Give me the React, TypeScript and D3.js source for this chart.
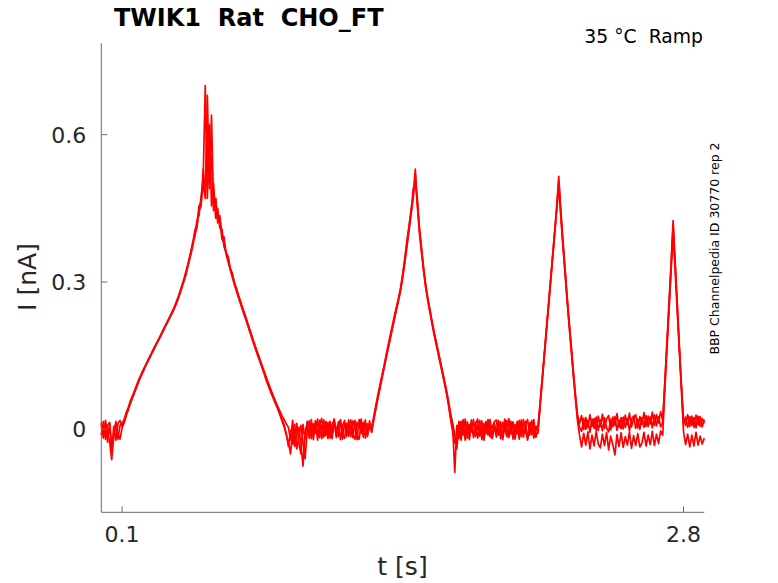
import React, { useMemo } from 'react';
import * as d3 from 'd3';

const WIDTH = 778;
const HEIGHT = 583;
const PLOT = { left: 101.3, right: 704.3, top: 43.3, bottom: 512.3 };
const DT = 0.01; // sample spacing of the traces below, in s

const X_DOMAIN: [number, number] = [0, 2.9];
const Y_DOMAIN: [number, number] = [-0.169, 0.786];
const X_TICKS = [0.1, 2.8];
const Y_TICKS = [0, 0.3, 0.6];

const TITLE = 'TWIK1\u00a0\u00a0Rat\u00a0\u00a0CHO_FT';
const CONDITION = '35 \u00b0C\u00a0\u00a0Ramp';
const SOURCE = 'BBP Channelpedia ID 30770 rep 2';

// current in nA, one value per 10 ms
const sweepA = [
  0.010, -0.015, 0.018, -0.008, -0.025, -0.062, -0.015, 0.012, -0.020, 0.008,
  0.012, 0.020, 0.034, 0.045, 0.058, 0.068, 0.079, 0.090, 0.101, 0.110,
  0.120, 0.128, 0.137, 0.146, 0.154, 0.163, 0.171, 0.179, 0.187, 0.196,
  0.205, 0.213, 0.222, 0.230, 0.239, 0.248, 0.259, 0.270, 0.283, 0.296,
  0.310, 0.326, 0.343, 0.361, 0.380, 0.405, 0.418, 0.455, 0.462, 0.500,
  0.470, 0.680, 0.500, 0.560, 0.450, 0.470, 0.425, 0.435, 0.395, 0.392,
  0.360, 0.352, 0.328, 0.318, 0.299, 0.287, 0.273, 0.260, 0.247, 0.235,
  0.222, 0.209, 0.196, 0.183, 0.170, 0.158, 0.146, 0.134, 0.122, 0.110,
  0.098, 0.087, 0.076, 0.065, 0.055, 0.045, 0.036, 0.027, 0.019, 0.011,
  0.004, -0.022, 0.018, -0.035, 0.012, -0.028, -0.050, 0.010, -0.020, 0.016,
  -0.014, 0.020, -0.010, 0.017, -0.022, 0.011, 0.022, -0.016, 0.008, -0.019,
  0.016, -0.008, 0.021, -0.017, 0.009, 0.018, -0.020, 0.013, -0.006, 0.019,
  -0.015, 0.017, 0.005, -0.021, 0.020, -0.009, 0.014, -0.018, 0.011, 0.002,
  0.004, 0.025, 0.048, 0.070, 0.090, 0.110, 0.130, 0.152, 0.172, 0.192,
  0.212, 0.232, 0.250, 0.268, 0.290, 0.318, 0.350, 0.385, 0.415, 0.448,
  0.475, 0.530, 0.460, 0.410, 0.370, 0.330, 0.295, 0.268, 0.245, 0.222,
  0.200, 0.180, 0.160, 0.140, 0.120, 0.100, 0.080, 0.058, 0.032, 0.012,
  -0.010, -0.040, 0.016, -0.014, 0.020, -0.022, 0.012, -0.007, 0.019, -0.017,
  0.010, 0.021, -0.014, 0.004, -0.020, 0.016, -0.009, 0.020, -0.018, 0.012,
  -0.005, 0.018, -0.019, 0.014, 0.006, -0.015, 0.022, -0.010, 0.015, -0.020,
  0.016, -0.006, 0.019, -0.016, 0.008, 0.020, -0.012, 0.015, -0.018, 0.006,
  0.006, 0.052, 0.102, 0.152, 0.202, 0.252, 0.302, 0.352, 0.402, 0.452,
  0.515, 0.445, 0.385, 0.330, 0.272, 0.220, 0.170, 0.120, 0.072, 0.030,
  0.012, 0.028, 0.000, 0.024, 0.004, 0.030, 0.006, 0.022, -0.002, 0.027,
  0.006, 0.031, 0.002, 0.021, 0.028, -0.001, 0.025, 0.008, 0.032, 0.004,
  0.024, 0.001, 0.029, 0.009, 0.033, 0.005, 0.022, 0.030, 0.003, 0.026,
  0.010, 0.034, 0.006, 0.027, 0.011, 0.035, 0.008, 0.030, 0.013, 0.036,
  0.018, 0.095, 0.175, 0.255, 0.335, 0.425, 0.340, 0.255, 0.170, 0.090,
  0.022, 0.008, 0.030, 0.006, 0.027, 0.004, 0.029, 0.009, 0.026, 0.005,
  0.020,
];

const sweepB = [
  -0.012, 0.016, -0.020, 0.008, 0.014, -0.045, 0.006, -0.022, 0.012, 0.018,
  0.006, 0.016, 0.030, 0.042, 0.055, 0.066, 0.077, 0.088, 0.099, 0.109,
  0.118, 0.127, 0.136, 0.144, 0.153, 0.161, 0.170, 0.178, 0.186, 0.195,
  0.203, 0.212, 0.220, 0.229, 0.237, 0.246, 0.256, 0.268, 0.280, 0.294,
  0.307, 0.322, 0.340, 0.358, 0.380, 0.392, 0.425, 0.436, 0.475, 0.510,
  0.700, 0.470, 0.620, 0.455, 0.500, 0.430, 0.450, 0.410, 0.408, 0.372,
  0.360, 0.344, 0.328, 0.313, 0.298, 0.284, 0.270, 0.257, 0.244, 0.232,
  0.219, 0.206, 0.193, 0.180, 0.168, 0.155, 0.143, 0.131, 0.119, 0.107,
  0.095, 0.084, 0.073, 0.063, 0.052, 0.042, 0.030, 0.020, 0.008, -0.010,
  -0.035, -0.002, -0.030, 0.010, -0.040, -0.016, 0.008, -0.026, -0.060, -0.004,
  0.017, -0.019, 0.011, -0.008, 0.021, -0.017, 0.006, 0.019, -0.013, 0.014,
  -0.018, 0.010, 0.020, -0.012, 0.015, -0.021, 0.007, 0.018, -0.015, 0.009,
  0.019, -0.011, -0.020, 0.014, 0.002, 0.021, -0.016, 0.010, -0.007, 0.017,
  -0.004, 0.020, 0.043, 0.065, 0.086, 0.107, 0.127, 0.148, 0.168, 0.188,
  0.208, 0.228, 0.247, 0.266, 0.287, 0.314, 0.345, 0.378, 0.410, 0.442,
  0.490, 0.500, 0.470, 0.405, 0.365, 0.325, 0.292, 0.265, 0.242, 0.219,
  0.197, 0.177, 0.157, 0.137, 0.117, 0.097, 0.076, 0.052, 0.025, 0.004,
  -0.088, 0.008, -0.019, 0.016, -0.012, 0.021, -0.018, 0.010, -0.005, 0.020,
  -0.015, 0.007, 0.018, -0.021, 0.012, -0.009, 0.020, -0.016, 0.005, 0.015,
  0.019, -0.012, 0.009, -0.018, 0.021, 0.002, -0.014, 0.016, -0.020, 0.010,
  -0.009, 0.018, -0.015, 0.020, -0.005, -0.019, 0.013, -0.011, 0.020, -0.016,
  -0.002, 0.048, 0.098, 0.148, 0.198, 0.248, 0.298, 0.348, 0.398, 0.450,
  0.505, 0.440, 0.380, 0.325, 0.268, 0.215, 0.165, 0.115, 0.068, 0.026,
  0.004, -0.004, 0.022, 0.000, 0.018, -0.006, 0.021, 0.002, 0.025, -0.002,
  0.019, -0.003, 0.024, 0.003, -0.005, 0.021, 0.005, 0.026, -0.002, 0.018,
  0.001, 0.025, 0.004, 0.022, -0.003, 0.020, 0.027, 0.002, 0.021, 0.000,
  0.024, 0.004, 0.028, 0.006, 0.025, 0.003, 0.029, 0.007, 0.026, 0.005,
  0.014, 0.090, 0.170, 0.250, 0.330, 0.415, 0.335, 0.250, 0.165, 0.085,
  0.010, 0.025, 0.004, 0.026, 0.008, 0.024, 0.003, 0.027, 0.006, 0.022,
  0.012,
];

const sweepC = [
  0.014, -0.018, 0.010, -0.026, 0.012, -0.034, -0.012, 0.016, -0.010, -0.020,
  0.003, 0.014, 0.028, 0.040, 0.053, 0.064, 0.075, 0.086, 0.097, 0.108,
  0.116, 0.126, 0.135, 0.143, 0.152, 0.160, 0.169, 0.177, 0.185, 0.194,
  0.202, 0.211, 0.219, 0.228, 0.236, 0.245, 0.255, 0.266, 0.279, 0.292,
  0.305, 0.320, 0.338, 0.355, 0.373, 0.398, 0.410, 0.446, 0.455, 0.530,
  0.480, 0.600, 0.490, 0.640, 0.445, 0.470, 0.420, 0.428, 0.388, 0.380,
  0.357, 0.341, 0.325, 0.310, 0.295, 0.281, 0.268, 0.255, 0.242, 0.230,
  0.217, 0.204, 0.191, 0.178, 0.165, 0.153, 0.141, 0.129, 0.117, 0.104,
  0.092, 0.081, 0.070, 0.060, 0.050, 0.040, 0.028, 0.016, 0.004, -0.012,
  -0.026, -0.050, -0.004, -0.034, -0.010, 0.004, -0.030, -0.075, -0.006, 0.010,
  -0.018, 0.010, -0.021, 0.015, -0.012, 0.018, -0.019, 0.006, 0.016, -0.011,
  0.010, -0.019, 0.014, 0.003, -0.015, 0.020, -0.009, -0.018, 0.012, -0.014,
  0.008, -0.017, 0.018, -0.011, -0.020, 0.013, -0.005, 0.019, -0.015, 0.009,
  -0.006, 0.018, 0.040, 0.062, 0.083, 0.104, 0.124, 0.145, 0.165, 0.185,
  0.205, 0.225, 0.244, 0.263, 0.284, 0.310, 0.340, 0.372, 0.405, 0.438,
  0.470, 0.520, 0.455, 0.400, 0.360, 0.322, 0.289, 0.262, 0.239, 0.216,
  0.194, 0.174, 0.154, 0.134, 0.114, 0.094, 0.073, 0.048, 0.020, -0.006,
  -0.028, -0.012, 0.012, -0.022, 0.008, -0.017, 0.015, -0.021, 0.006, -0.012,
  0.014, -0.018, 0.004, 0.017, -0.022, 0.010, -0.012, 0.015, -0.019, 0.006,
  -0.016, 0.011, 0.015, -0.021, 0.003, 0.018, -0.017, 0.007, 0.014, -0.015,
  0.010, -0.020, 0.013, -0.009, 0.016, -0.022, 0.005, 0.018, -0.012, 0.004,
  -0.008, 0.045, 0.095, 0.145, 0.195, 0.245, 0.295, 0.345, 0.395, 0.445,
  0.495, 0.432, 0.372, 0.318, 0.262, 0.210, 0.160, 0.110, 0.062, 0.018,
  -0.012, -0.036, -0.008, -0.032, -0.005, -0.040, -0.012, -0.034, -0.004, -0.030,
  -0.038, -0.010, -0.033, -0.006, -0.042, -0.014, -0.031, -0.052, -0.011, -0.035,
  -0.007, -0.037, -0.015, -0.032, -0.005, -0.039, -0.013, -0.033, -0.009, -0.036,
  -0.028, -0.006, -0.034, -0.012, -0.031, -0.004, -0.033, -0.010, -0.029, -0.003,
  -0.012, 0.080, 0.160, 0.240, 0.320, 0.400, 0.320, 0.240, 0.160, 0.080,
  -0.004, -0.031, -0.010, -0.036, -0.012, -0.034, -0.006, -0.032, -0.014, -0.030,
  -0.018,
];

const SWEEPS = [sweepA, sweepB, sweepC];

const AXIS_COLOR = '#6b6b6b';
const TEXT_COLOR = '#262626';
const FONT = '"DejaVu Sans", sans-serif';

const App = () => {
  const xScale = useMemo(
    () => d3.scaleLinear().domain(X_DOMAIN).range([PLOT.left, PLOT.right]),
    []
  );
  const yScale = useMemo(
    () => d3.scaleLinear().domain(Y_DOMAIN).range([PLOT.bottom, PLOT.top]),
    []
  );

  const lineGenerator = d3
    .line<number>()
    .x((_, i) => xScale(i * DT))
    .y((d) => yScale(d));

  return (
    <svg
      width={WIDTH}
      height={HEIGHT}
      style={{ position: 'absolute', left: 0, top: 0, background: '#fff' }}
      fontFamily={FONT}
    >
      {SWEEPS.map((sweep, i) => (
        <path
          key={i}
          d={lineGenerator(sweep) || ''}
          fill="none"
          stroke="#ff0000"
          strokeWidth={1.7}
          strokeLinejoin="round"
        />
      ))}

      {/* axes, ticks pointing inward */}
      <line x1={PLOT.left} x2={PLOT.left} y1={PLOT.top} y2={PLOT.bottom} stroke={AXIS_COLOR} />
      <line x1={PLOT.left} x2={PLOT.right} y1={PLOT.bottom} y2={PLOT.bottom} stroke={AXIS_COLOR} />
      {Y_TICKS.map((t) => (
        <g key={'y' + t}>
          <line x1={PLOT.left} x2={PLOT.left + 6} y1={yScale(t)} y2={yScale(t)} stroke={AXIS_COLOR} />
          <text
            x={PLOT.left - 15}
            y={yScale(t) + 8}
            textAnchor="end"
            fontSize={22}
            fill={TEXT_COLOR}
          >
            {String(t)}
          </text>
        </g>
      ))}
      {X_TICKS.map((t) => (
        <g key={'x' + t}>
          <line x1={xScale(t)} x2={xScale(t)} y1={PLOT.bottom} y2={PLOT.bottom - 6} stroke={AXIS_COLOR} />
          <text x={xScale(t)} y={541.5} textAnchor="middle" fontSize={22} fill={TEXT_COLOR}>
            {String(t)}
          </text>
        </g>
      ))}

      <text x={402.5} y={575} textAnchor="middle" fontSize={25} fill={TEXT_COLOR}>
        t [s]
      </text>
      <text
        transform={`translate(36,277) rotate(-90)`}
        textAnchor="middle"
        fontSize={25}
        fill={TEXT_COLOR}
      >
        I [nA]
      </text>

      <text x={114} y={26} fontSize={24} fontWeight="bold" fill="#000">
        {TITLE}
      </text>
      <text x={703} y={42.5} textAnchor="end" fontSize={18.8} fill="#000">
        {CONDITION}
      </text>
      <text
        transform={`translate(719,248.5) rotate(-90)`}
        textAnchor="middle"
        fontSize={12.5}
        fill="#000"
      >
        {SOURCE}
      </text>
    </svg>
  );
};

export default App;
